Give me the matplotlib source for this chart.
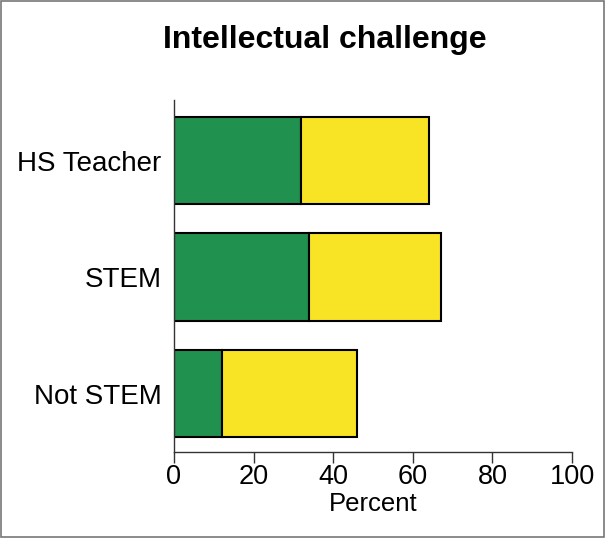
import matplotlib
matplotlib.use("Agg")
import matplotlib.pyplot as plt
from matplotlib.patches import Rectangle

categories = ["HS Teacher", "STEM", "Not STEM"]
green_vals = [32, 34, 12]
yellow_vals = [32, 33, 34]
xticks = [0, 20, 40, 60, 80, 100]

plt.rcParams['font.family'] = ['Liberation Sans', 'DejaVu Sans']

fig = plt.figure(figsize=(6.05, 5.38), dpi=100)
ax = fig.add_axes([174/605, 1-452/538, (572-174)/605, (452-100)/538])

ypos = [2, 1, 0]
ax.barh(ypos, green_vals, height=0.75, color="#219150", edgecolor="black", linewidth=1.5)
ax.barh(ypos, yellow_vals, left=green_vals, height=0.75, color="#F8E425", edgecolor="black", linewidth=1.5)

ax.set_xlim(0, 100)
ax.set_ylim(-0.5, 2.52)
ax.set_xticks(xticks)
ax.set_xticklabels([str(t) for t in xticks], fontsize=19.5)
ax.set_yticks(ypos)
ax.set_yticklabels(categories, fontsize=20)
ax.set_xlabel("Percent", fontsize=18.5, labelpad=1)
ax.tick_params(axis='x', length=8, width=1, color="#333333", pad=1)
ax.tick_params(axis='y', length=0, pad=9)
for s in ["top", "right"]:
    ax.spines[s].set_visible(False)
for s in ["left", "bottom"]:
    ax.spines[s].set_color("#333333")
    ax.spines[s].set_linewidth(1)

fig.text(325/605, 1-40/538, "Intellectual challenge", ha="center", va="center",
         fontsize=23, fontweight="bold")

fig.patches.append(Rectangle((0.002, 0.002), 0.996, 0.996, transform=fig.transFigure,
                             fill=False, edgecolor="#777777", linewidth=1.2))

fig.savefig("out.png", dpi=100)
